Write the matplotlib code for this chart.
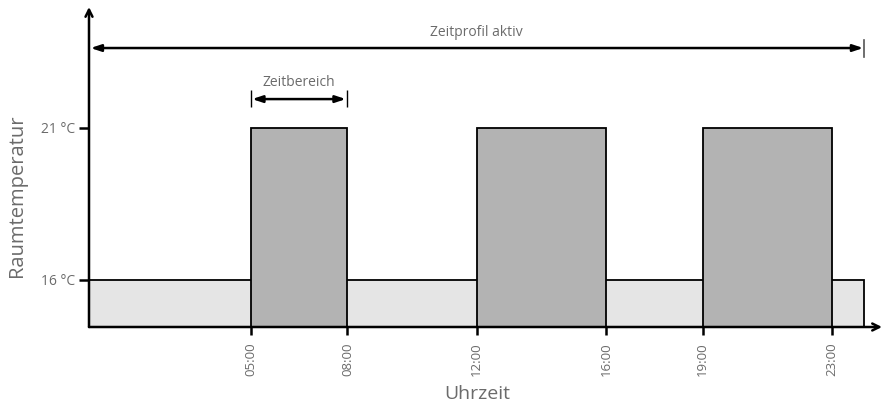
import matplotlib
matplotlib.use('Agg')
import matplotlib.pyplot as plt

# ======================
# DATA
# ======================
base_temp = 16          # Grundtemperatur
comfort_temp = 21       # Komforttemperatur
profile_end = 24        # Ende Zeitprofil (h)
starts = [5, 12, 19]    # Beginn Zeitbereiche (h)
ends = [8, 16, 23]      # Ende Zeitbereiche (h)
tick_hours = [5, 8, 12, 16, 19, 23]
tick_labels = ['05:00', '08:00', '12:00', '16:00', '19:00', '23:00']
ytick_vals = [16, 21]
ytick_labels = ['16 °C', '21 °C']

# Aesthetic parameters
plt.rcParams['font.family'] = ['Open Sans', 'DejaVu Sans']
text_col = '#6b6b6b'
ymin, ymax = 14.45, 24.98
xmin, xmax = 0, 24.55

# ======================
# PLOT
# ======================
fig = plt.figure(figsize=(8.87, 4.04), dpi=100)
ax = fig.add_axes([89 / 887, 77 / 404, 793 / 887, 320 / 404])
ax.set_xlim(xmin, xmax)
ax.set_ylim(ymin, ymax)
for s in ax.spines.values():
    s.set_visible(False)

# Grundtemperatur ueber ganzes Profil
ax.bar(0, base_temp - ymin, width=profile_end, bottom=ymin, align='edge',
       color='#e5e5e5', edgecolor='black', linewidth=1.3, zorder=1)
# Zeitbereiche
widths = [e - s for s, e in zip(starts, ends)]
ax.bar(starts, comfort_temp - ymin, width=widths, bottom=ymin, align='edge',
       color='#b3b3b3', edgecolor='black', linewidth=1.3, zorder=2)

# Achsen mit Pfeilen
ax.annotate('', xy=(0, 1.0), xytext=(0, 0), xycoords='axes fraction',
            arrowprops=dict(arrowstyle='->,head_length=0.5,head_width=0.25',
                            lw=1.8, color='black', shrinkA=0, shrinkB=0), zorder=5)
ax.annotate('', xy=(1.0, 0), xytext=(0, 0), xycoords='axes fraction',
            arrowprops=dict(arrowstyle='->,head_length=0.5,head_width=0.25',
                            lw=1.8, color='black', shrinkA=0, shrinkB=0), zorder=5)

# Ticks
ax.set_xticks(tick_hours)
ax.set_xticklabels(tick_labels, rotation=90, color=text_col, fontsize=9.5)
ax.set_yticks(ytick_vals)
ax.set_yticklabels(ytick_labels, color=text_col, fontsize=10)
ax.tick_params(axis='x', length=6, width=1.8, pad=5)
ax.tick_params(axis='y', length=7, width=1.8, pad=3)

ax.set_xlabel('Uhrzeit', color=text_col, fontsize=14)
ax.xaxis.set_label_coords(0.489, -0.18)
ax.set_ylabel('Raumtemperatur', color=text_col, fontsize=14.5)
ax.yaxis.set_label_coords(-0.078, 0.41)

# Zeitprofil aktiv
y_prof = 23.63
ax.annotate('', xy=(0.05, y_prof), xytext=(profile_end - 0.03, y_prof),
            arrowprops=dict(arrowstyle='<|-|>,head_length=0.6,head_width=0.2',
                            lw=1.8, color='black', shrinkA=0, shrinkB=0))
ax.plot([profile_end, profile_end], [23.34, 23.9], color='#555555', lw=1.2)
ax.text(profile_end / 2, y_prof + 0.26, 'Zeitprofil aktiv', ha='center',
        va='bottom', color=text_col, fontsize=10)

# Zeitbereich
y_ber = 21.95
ax.annotate('', xy=(starts[0] + 0.05, y_ber), xytext=(ends[0] - 0.05, y_ber),
            arrowprops=dict(arrowstyle='<|-|>,head_length=0.6,head_width=0.2',
                            lw=1.8, color='black', shrinkA=0, shrinkB=0))
ax.vlines([starts[0], ends[0]], 21.69, 22.25, color='black', lw=1)
ax.text((starts[0] + ends[0]) / 2, y_ber + 0.3, 'Zeitbereich', ha='center',
        va='bottom', color=text_col, fontsize=10)

plt.savefig('out.png', dpi=100)
